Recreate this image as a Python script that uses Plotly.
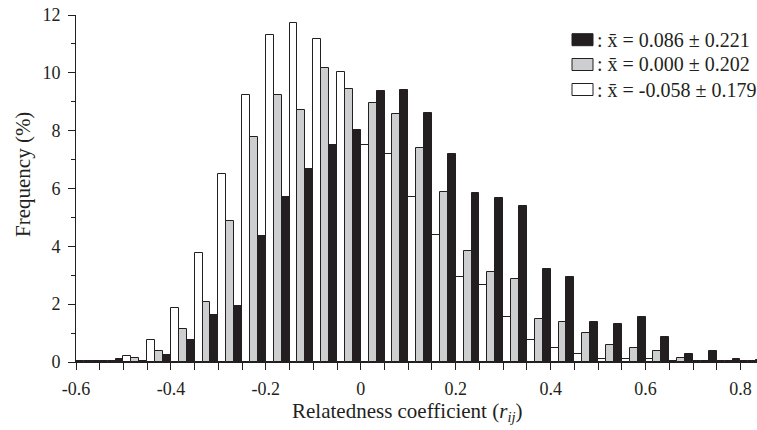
import plotly.graph_objects as go

# ---- data ----
bin_centers = [-0.575, -0.525, -0.475, -0.425, -0.375, -0.325, -0.275, -0.225, -0.175, -0.125,
               -0.075, -0.025, 0.025, 0.075, 0.125, 0.175, 0.225, 0.275, 0.325, 0.375,
               0.425, 0.475, 0.525, 0.575, 0.625, 0.675, 0.725, 0.775, 0.825]

white_vals = [0.05, 0.04, 0.20, 0.77, 1.87, 3.77, 6.51, 9.23, 11.31, 11.73,
              11.17, 10.02, 7.50, 7.18, 5.72, 4.40, 2.95, 2.67, 1.55, 0.77,
              0.49, 0.28, 0.10, 0.10, 0.10, 0.04, 0.04, 0.03, 0.03]
gray_vals = [0.02, 0.05, 0.15, 0.38, 1.14, 2.09, 4.89, 7.79, 9.23, 8.73,
             10.18, 9.45, 8.95, 8.57, 7.41, 5.88, 3.84, 3.10, 2.88, 1.50,
             1.37, 0.99, 0.60, 0.48, 0.37, 0.15, 0.04, 0.05, 0.05]
black_vals = [0.02, 0.09, 0.05, 0.23, 0.77, 1.61, 1.95, 4.35, 5.69, 6.68,
              7.52, 8.02, 9.36, 9.40, 8.62, 7.19, 5.85, 5.68, 5.40, 3.23,
              2.95, 1.37, 1.32, 1.55, 0.88, 0.28, 0.37, 0.11, 0.06]

legend_labels = [": x\u0304 = 0.086 \u00b1 0.221",
                 ": x\u0304 = 0.000 \u00b1 0.202",
                 ": x\u0304 = -0.058 \u00b1 0.179"]

x_tickvals = [-0.6, -0.4, -0.2, 0.0, 0.2, 0.4, 0.6, 0.8]
x_ticktext = ["-0.6", "-0.4", "-0.2", "0", "0.2", "0.4", "0.6", "0.8"]
x_minor_ticks = [round(-0.6 + 0.05 * i, 2) for i in range(29)]
y_tickvals = [0, 2, 4, 6, 8, 10, 12]
y_ticktext = ["0", "2", "4", "6", "8", "10", "12"]

# ---- styling ----
FONT = "Liberation Serif"
INK = "#231f20"
BLACK_FILL = "#231f20"
GRAY_FILL = "#cdced0"
WHITE_FILL = "#ffffff"

W, H = 757, 430
ML, MR, MT, MB = 76, 0, 15, 68
PW, PH = W - ML - MR, H - MT - MB


def px_x(px):
    return (px - ML) / PW


def px_y(py):
    return (H - MB - py) / PH


fig = go.Figure()
for vals, fill in [(white_vals, WHITE_FILL), (gray_vals, GRAY_FILL), (black_vals, BLACK_FILL)]:
    fig.add_trace(go.Bar(
        x=bin_centers, y=vals,
        marker=dict(color=fill, line=dict(color=INK, width=1)),
        showlegend=False, hoverinfo="x+y",
    ))

# manual legend (box + text) in the top-right corner
fills = [BLACK_FILL, GRAY_FILL, WHITE_FILL]
row_centers = [39.7, 64.5, 89.5]
shapes = []
annotations = []
for fill, label, yc in zip(fills, legend_labels, row_centers):
    shapes.append(dict(type="rect", xref="paper", yref="paper",
                       x0=px_x(572), x1=px_x(593), y0=px_y(yc + 6), y1=px_y(yc - 6),
                       fillcolor=fill, line=dict(color=INK, width=1)))
    annotations.append(dict(xref="paper", yref="paper", x=px_x(595), y=px_y(yc),
                            xanchor="left", yanchor="middle", showarrow=False,
                            text=label, font=dict(family=FONT, size=20, color=INK)))

# axis titles
annotations.append(dict(xref="paper", yref="paper", x=px_x(23), y=px_y(175),
                        xanchor="center", yanchor="middle", showarrow=False, textangle=-90,
                        text="Frequency (%)", font=dict(family=FONT, size=21, color=INK)))
annotations.append(dict(xref="paper", yref="paper", x=px_x(407), y=px_y(412),
                        xanchor="center", yanchor="middle", showarrow=False,
                        text="Relatedness coefficient (<i>r</i><sub><i>ij</i></sub>)",
                        font=dict(family=FONT, size=21, color=INK)))

fig.update_layout(
    width=W, height=H,
    margin=dict(l=ML, r=MR, t=MT, b=MB, pad=0),
    paper_bgcolor="white", plot_bgcolor="white",
    barmode="group", bargap=0, bargroupgap=0,
    font=dict(family=FONT, size=18, color=INK),
    shapes=shapes, annotations=annotations,
    xaxis=dict(range=[-0.6, 0.8348], showgrid=False, zeroline=False,
               showline=True, linecolor=INK, linewidth=1,
               tickmode="array", tickvals=x_tickvals, ticktext=x_ticktext,
               ticks="outside", ticklen=7, tickwidth=1, tickcolor=INK,
               ticklabelstandoff=3,
               tickfont=dict(family=FONT, size=18, color=INK),
               minor=dict(tickmode="array", tickvals=x_minor_ticks, ticks="outside",
                          ticklen=7, tickwidth=1, tickcolor=INK)),
    yaxis=dict(range=[0, 12], showgrid=False, zeroline=False,
               showline=True, linecolor=INK, linewidth=1,
               tickmode="array", tickvals=y_tickvals, ticktext=y_ticktext,
               ticks="outside", ticklen=7, tickwidth=1, tickcolor=INK,
               ticklabelstandoff=4,
               tickfont=dict(family=FONT, size=18, color=INK),
               minor=dict(dtick=1, ticks="outside", ticklen=4, tickwidth=1,
                          tickcolor=INK)),
)

fig.write_html("out.html")
